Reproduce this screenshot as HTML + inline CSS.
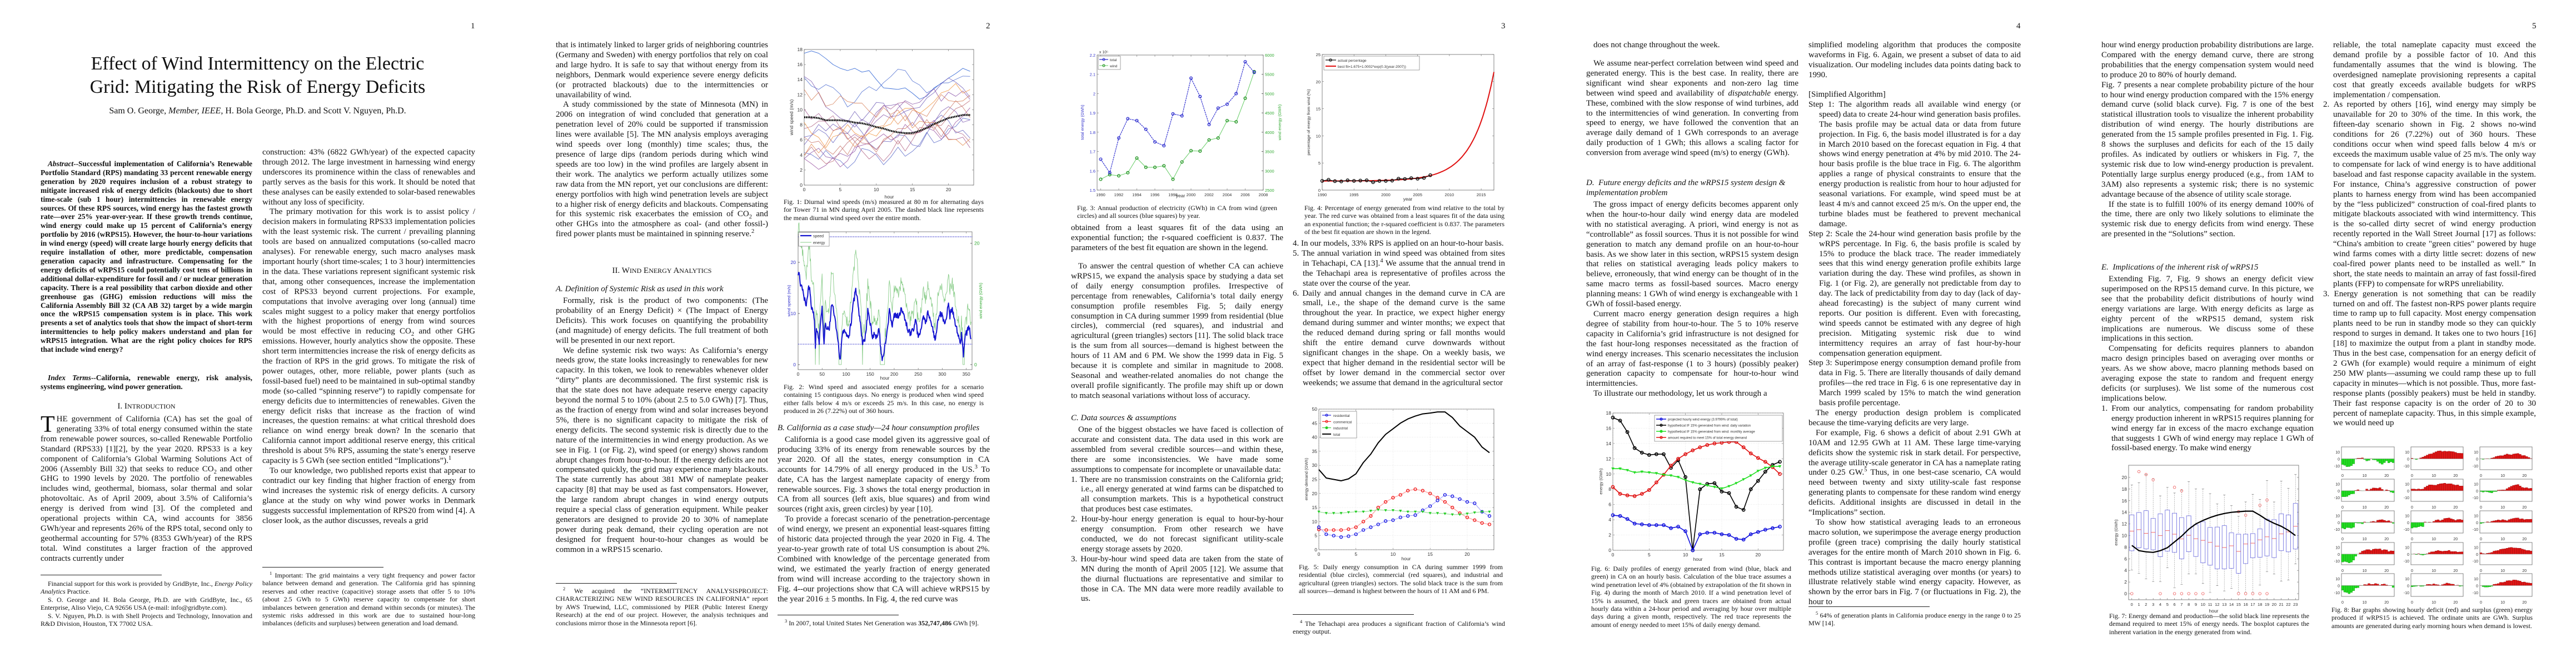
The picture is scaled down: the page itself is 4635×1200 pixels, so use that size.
<!DOCTYPE html>
<html><head><meta charset="utf-8">
<style>
html,body{margin:0;padding:0;background:#fff}
body{width:4635px;height:1200px;position:relative;overflow:hidden;font-family:"Liberation Serif",serif;color:#111}
.a{position:absolute}
.c{position:absolute;font-size:15px;line-height:17.9px;text-align:justify}
.c p{margin:0;text-indent:13px}
.c p.ni{text-indent:0}
.li{padding-left:18px;text-indent:-18px!important}
.st{padding-left:19px;text-indent:-19px!important}
.fn{position:absolute;font-size:12px;line-height:14.4px;text-align:justify}
.fn p{margin:0;text-indent:13px}
.cap{position:absolute;font-size:12px;line-height:14.4px;text-align:justify}
.hd{position:absolute;font-size:15px;line-height:18px;font-style:italic}
.sec{position:absolute;font-size:15px;line-height:18px;text-align:center}
.rule{position:absolute;height:1px;background:#222}
.pn{position:absolute;font-size:15px;top:39px}
.abs{position:absolute;font-size:13.4px;line-height:15.9px;font-weight:bold;text-align:justify}
.abs p{margin:0;text-indent:13px}
sup{font-size:70%;line-height:0}
sub{font-size:70%;line-height:0}
svg{position:absolute;left:0;top:0}
</style></head><body>
<svg id="ov" width="4635" height="1200" xmlns="http://www.w3.org/2000/svg"></svg>

<!-- page numbers -->
<div class="pn" style="left:847px">1</div>
<div class="pn" style="left:1774px">2</div>
<div class="pn" style="left:2701px">3</div>
<div class="pn" style="left:3628px">4</div>
<div class="pn" style="left:4556px">5</div>

<!-- PAGE 1 -->
<div class="a" style="left:0;width:927px;top:94px;text-align:center;font-size:34px;line-height:42px">Effect of Wind Intermittency on the Electric<br>Grid: Mitigating the Risk of Energy Deficits</div>
<div class="a" style="left:0;width:927px;top:191px;text-align:center;font-size:16px">Sam O. George, <i>Member, IEEE</i>, H. Bola George, Ph.D. and Scott V. Nguyen, Ph.D.</div>

<div class="abs" style="left:73px;top:287px;width:381px"><p><i>Abstract</i>--Successful implementation of California’s Renewable Portfolio Standard (RPS) mandating 33 percent renewable energy generation by 2020 requires inclusion of a robust strategy to mitigate increased risk of energy deficits (blackouts) due to short time-scale (sub 1 hour) intermittencies in renewable energy sources. Of these RPS sources, wind energy has the fastest growth rate—over 25% year-over-year. If these growth trends continue, wind energy could make up 15 percent of California’s energy portfolio by 2016 (wRPS15). However, the hour-to-hour variations in wind energy (speed) will create large hourly energy deficits that require installation of other, more predictable, compensation generation capacity and infrastructure. Compensating for the energy deficits of wRPS15 could potentially cost tens of billions in additional dollar-expenditure for fossil and / or nuclear generation capacity. There is a real possibility that carbon dioxide and other greenhouse gas (GHG) emission reductions will miss the California Assembly Bill 32 (CA AB 32) target by a wide margin once the wRPS15 compensation system is in place. This work presents a set of analytics tools that show the impact of short-term intermittencies to help policy makers understand and plan for wRPS15 integration. What are the right policy choices for RPS that include wind energy?</p></div>
<div class="abs" style="left:73px;top:672px;width:381px"><p><i>Index Terms</i>--California, renewable energy, risk analysis, systems engineering, wind power generation.</p></div>
<div class="sec" style="left:73px;top:722px;width:381px">I. I<span style="font-size:12px">NTRODUCTION</span></div>
<div class="c" style="left:73px;top:746px;width:381px"><p class="ni"><span style="float:left;font-size:42px;line-height:34px;margin:1px 3px 0 0">T</span>HE government of California (CA) has set the goal of generating 33% of total energy consumed within the state from renewable power sources, so-called Renewable Portfolio Standard (RPS33) [1][2], by the year 2020. RPS33 is a key component of California’s Global Warming Solutions Act of 2006 (Assembly Bill 32) that seeks to reduce CO<sub>2</sub> and other GHG to 1990 levels by 2020. The portfolio of renewables includes wind, geothermal, biomass, solar thermal and solar photovoltaic. As of April 2009, about 3.5% of California’s energy is derived from wind [3]. Of the completed and operational projects within CA, wind accounts for 3856 GWh/year and represents 26% of the RPS total, second only to geothermal accounting for 57% (8353 GWh/year) of the RPS total. Wind constitutes a larger fraction of the approved contracts currently under</p></div>
<div class="rule" style="left:73px;top:1034px;width:218px"></div>
<div class="fn" style="left:73px;top:1043px;width:381px"><p>Financial support for this work is provided by GridByte, Inc., <i>Energy Policy Analytics</i> Practice.</p><p>S. O. George and H. Bola George, Ph.D. are with GridByte, Inc., 65 Enterprise, Aliso Viejo, CA 92656 USA (e-mail: info@gridbyte.com).</p><p>S. V. Nguyen, Ph.D. is with Shell Projects and Technology, Innovation and R&amp;D Division, Houston, TX 77002 USA.</p></div>

<div class="c" style="left:472px;top:266px;width:383px"><p class="ni">construction: 43% (6822 GWh/year) of the expected capacity through 2012. The large investment in harnessing wind energy underscores its prominence within the class of renewables and partly serves as the basis for this work. It should be noted that these analyses can be easily extended to solar-based renewables without any loss of specificity.</p><p>The primary motivation for this work is to assist policy / decision makers in formulating RPS33 implementation policies with the least systemic risk. The current / prevailing planning tools are based on annualized computations (so-called macro analyses). For renewable energy, such macro analyses mask important hourly (short time-scales; 1 to 3 hour) intermittencies in the data. These variations represent significant systemic risk that, among other consequences, increase the implementation cost of RPS33 beyond current projections. For example, computations that involve averaging over long (annual) time scales might suggest to a policy maker that energy portfolios with the highest proportions of energy from wind sources would be most effective in reducing CO<sub>2</sub> and other GHG emissions. However, hourly analytics show the opposite. These short term intermittencies increase the risk of energy deficits as the fraction of RPS in the grid grows. To mitigate the risk of power outages, other, more reliable, power plants (such as fossil-based fuel) need to be maintained in sub-optimal standby mode (so-called “spinning reserve”) to rapidly compensate for energy deficits due to intermittencies of renewables. Given the energy deficit risks that increase as the fraction of wind increases, the question remains: at what critical threshold does reliance on wind energy break down? In the scenario that California cannot import additional reserve energy, this critical threshold is about 5% RPS, assuming the state’s energy reserve capacity is 5 GWh (see section entitled “Implications”).<sup>1</sup></p><p>To our knowledge, two published reports exist that appear to contradict our key finding that higher fraction of energy from wind increases the systemic risk of energy deficits. A cursory glance at the study on why wind power works in Denmark suggests successful implementation of RPS20 from wind [4]. A closer look, as the author discusses, reveals a grid</p></div>
<div class="rule" style="left:472px;top:1020px;width:218px"></div>
<div class="fn" style="left:472px;top:1028px;width:383px"><p><sup>1</sup> Important: The grid maintains a very tight frequency and power factor balance between demand and generation. The California grid has spinning reserves and other reactive (capacitive) storage assets that offer 5 to 10% (about 2.5 GWh to 5 GWh) reserve capacity to compensate for short imbalances between generation and demand within seconds (or minutes). The systemic risks addressed in this work are due to sustained hour-long imbalances (deficits and surpluses) between generation and load demand.</p></div>

<!-- PAGE 2 -->
<div class="c" style="left:1000px;top:73px;width:382px"><p class="ni">that is intimately linked to larger grids of neighboring countries (Germany and Sweden) with energy portfolios that rely on coal and large hydro. It is safe to say that without energy from its neighbors, Denmark would experience severe energy deficits (or protracted blackouts) due to the intermittencies or unavailability of wind.</p><p>A study commissioned by the state of Minnesota (MN) in 2006 on integration of wind concluded that generation at a penetration level of 20% could be supported if transmission lines were available [5]. The MN analysis employs averaging wind speeds over long (monthly) time scales; thus, the presence of large dips (random periods during which wind speeds are too low) in the wind profiles are largely absent in their work. The analytics we perform actually utilizes some raw data from the MN report, yet our conclusions are different: energy portfolios with high wind penetration levels are subject to a higher risk of energy deficits and blackouts. Compensating for this systemic risk exacerbates the emission of CO<sub>2</sub> and other GHGs into the atmosphere as coal- (and other fossil-) fired power plants must be maintained in spinning reserve.<sup>2</sup></p></div>
<div class="sec" style="left:1000px;top:478px;width:382px">II. W<span style="font-size:12px">IND</span> E<span style="font-size:12px">NERGY</span> A<span style="font-size:12px">NALYTICS</span></div>
<div class="hd" style="left:1000px;top:511px;width:382px">A. Definition of Systemic Risk as used in this work</div>
<div class="c" style="left:1000px;top:533px;width:382px"><p>Formally, risk is the product of two components: (The probability of an Energy Deficit) × (The Impact of Energy Deficits). This work focuses on quantifying the probability (and magnitude) of energy deficits. The full treatment of both will be presented in our next report.</p><p>We define systemic risk two ways: As California’s energy needs grow, the state looks increasingly to renewables for new capacity. In this token, we look to renewables whenever older “dirty” plants are decommissioned. The first systemic risk is that the state does not have adequate reserve energy capacity beyond the normal 5 to 10% (about 2.5 to 5.0 GWh) [7]. Thus, as the fraction of energy from wind and solar increases beyond 5%, there is no significant capacity to mitigate the risk of energy deficits. The second systemic risk is directly due to the nature of the intermittencies in wind energy production. As we see in Fig. 1 (or Fig. 2), wind speed (or energy) shows random abrupt changes from hour-to-hour. If the energy deficits are not compensated quickly, the grid may experience many blackouts. The state currently has about 381 MW of nameplate peaker capacity [8] that may be used as fast compensators. However, the large random abrupt changes in wind energy outputs require a special class of generation equipment. While peaker generators are designed to provide 20 to 30% of nameplate power during peak demand, their cycling operation are not designed for frequent hour-to-hour changes as would be common in a wRPS15 scenario.</p></div>
<div class="rule" style="left:1000px;top:1049px;width:218px"></div>
<div class="fn" style="left:1000px;top:1056px;width:382px"><p><sup>2</sup> We acquired the “INTERMITTENCY ANALYSISPROJECT: CHARACTERIZING NEW WIND RESOURCES IN CALIFORNIA” report by AWS Truewind, LLC, commissioned by PIER (Public Interest Energy Research) at the end of our project. However, the analysis techniques and conclusions mirror those in the Minnesota report [6].</p></div>

<div class="cap" style="left:1410px;top:356px;width:360px">Fig. 1: Diurnal wind speeds (m/s) measured at 80 m for alternating days for Tower 71 in MN during April 2005. The dashed black line represents the mean diurnal wind speed over the entire month.</div>
<div class="cap" style="left:1410px;top:689px;width:360px">Fig. 2: Wind speed and associated energy profiles for a scenario containing 15 contiguous days. No energy is produced when wind speed either falls below 4 m/s or exceeds 25 m/s. In this case, no energy is produced in 26 (7.22%) out of 360 hours.</div>
<div class="hd" style="left:1399px;top:761px;width:383px">B. California as a case study—24 hour consumption profiles</div>
<div class="c" style="left:1399px;top:783px;width:382px"><p>California is a good case model given its aggressive goal of producing 33% of its energy from renewable sources by the year 2020. Of all the states, energy consumption in CA accounts for 14.79% of all energy produced in the US.<sup>3</sup> To date, CA has the largest nameplate capacity of energy from renewable sources. Fig. 3 shows the total energy production in CA from all sources (left axis, blue squares) and from wind sources (right axis, green circles) by year [10].</p><p>To provide a forecast scenario of the penetration-percentage of wind energy, we present an exponential least-squares fitting of historic data projected through the year 2020 in Fig. 4. The year-to-year growth rate of total US consumption is about 2%. Combined with knowledge of the percentage generated from wind, we estimated the yearly fraction of energy generated from wind will increase according to the trajectory shown in Fig. 4--our projections show that CA will achieve wRPS15 by the year 2016 ± 5 months. In Fig. 4, the red curve was</p></div>
<div class="rule" style="left:1399px;top:1106px;width:218px"></div>
<div class="fn" style="left:1399px;top:1114px;width:382px"><p><sup>3</sup> In 2007, total United States Net Generation was <b>352,747,486</b> GWh [9].</p></div>

<!-- PAGE 3 -->
<div class="cap" style="left:1938px;top:367px;width:360px">Fig. 3: Annual production of electricity (GWh) in CA from wind (green circles) and all sources (blue squares) by year.</div>
<div class="c" style="left:1927px;top:402px;width:382px"><p class="ni">obtained from a least squares fit of the data using an exponential function; the r-squared coefficient is 0.837. The parameters of the best fit equation are shown in the legend.</p></div>
<div class="c" style="left:1927px;top:471px;width:382px"><p>To answer the central question of whether CA can achieve wRPS15, we expand the analysis space by studying a data set of daily energy consumption profiles. Irrespective of percentage from renewables, California’s total daily energy consumption profile resembles Fig. 5; daily energy consumption in CA during summer 1999 from residential (blue circles), commercial (red squares), and industrial and agricultural (green triangles) sectors [11]. The solid black trace is the sum from all sources—demand is highest between the hours of 11 AM and 6 PM. We show the 1999 data in Fig. 5 because it is complete and similar in magnitude to 2008. Seasonal and weather-related anomalies do not change the overall profile significantly. The profile may shift up or down to match seasonal variations without loss of accuracy.</p></div>
<div class="hd" style="left:1927px;top:743px;width:382px">C. Data sources &amp; assumptions</div>
<div class="c" style="left:1927px;top:765px;width:382px"><p>One of the biggest obstacles we have faced is collection of accurate and consistent data. The data used in this work are assembled from several credible sources—and within these, there are some inconsistencies. We have made some assumptions to compensate for incomplete or unavailable data:</p><p class="li">1.&nbsp;There are no transmission constraints on the California grid; i.e., all energy generated at wind farms can be dispatched to all consumption markets. This is a hypothetical construct that produces best case estimates.</p><p class="li">2.&nbsp;Hour-by-hour energy generation is equal to hour-by-hour energy consumption. From other research we have conducted, we do not forecast significant utility-scale energy storage assets by 2020.</p><p class="li">3.&nbsp;Hour-by-hour wind speed data are taken from the state of MN during the month of April 2005 [12]. We assume that the diurnal fluctuations are representative and similar to those in CA. The MN data were more readily available to us.</p></div>

<div class="cap" style="left:2347px;top:367px;width:360px">Fig. 4: Percentage of energy generated from wind relative to the total by year. The red curve was obtained from a least squares fit of the data using an exponential function; the r-squared coefficient is 0.837. The parameters of the best fit equation are shown in the legend.</div>
<div class="c" style="left:2326px;top:430px;width:382px"><p class="li">4.&nbsp;In our models, 33% RPS is applied on an hour-to-hour basis.</p><p class="li">5.&nbsp;The annual variation in wind speed was obtained from sites in Tehachapi, CA [13].<sup>4</sup> We assume that the annual trend in the Tehachapi area is representative of profiles across the state over the course of the year.</p><p class="li">6.&nbsp;Daily and annual changes in the demand curve in CA are small, i.e., the shape of the demand curve is the same throughout the year. In practice, we expect higher energy demand during summer and winter months; we expect that the reduced demand during spring or fall months would shift the entire demand curve downwards without significant changes in the shape. On a weekly basis, we expect that higher demand in the residential sector will be offset by lower demand in the commercial sector over weekends; we assume that demand in the agricultural sector</p></div>
<div class="cap" style="left:2337px;top:1013px;width:367px">Fig. 5: Daily energy consumption in CA during summer 1999 from residential (blue circles), commercial (red squares), and industrial and agricultural (green triangles) sectors. The solid black trace is the sum from all sources—demand is highest between the hours of 11 AM and 6 PM.</div>
<div class="rule" style="left:2326px;top:1105px;width:218px"></div>
<div class="fn" style="left:2326px;top:1115px;width:382px"><p><sup>4</sup> The Tehachapi area produces a significant fraction of California’s wind energy output.</p></div>

<!-- PAGE 4 -->
<div class="c" style="left:2854px;top:73px;width:382px"><p>does not change throughout the week.</p></div>
<div class="c" style="left:2854px;top:106px;width:382px"><p>We assume near-perfect correlation between wind speed and generated energy. This is the best case. In reality, there are significant wind shear exponents and non-zero lag time between wind speed and availability of <i>dispatchable</i> energy. These, combined with the slow response of wind turbines, add to the intermittencies of wind generation. In converting from speed to energy, we have followed the convention that an average daily demand of 1 GWh corresponds to an average daily production of 1 GWh; this allows a scaling factor for conversion from average wind speed (m/s) to energy (GWh).</p></div>
<div class="hd" style="left:2854px;top:321px;width:382px;line-height:17.9px">D.&nbsp; Future energy deficits and the wRPS15 system design &amp; implementation problem</div>
<div class="c" style="left:2854px;top:360px;width:382px"><p>The gross impact of energy deficits becomes apparent only when the hour-to-hour daily wind energy data are modeled with no statistical averaging. A priori, wind energy is not as “controllable” as fossil sources. Thus it is not possible for wind generation to match any demand profile on an hour-to-hour basis. As we show later in this section, wRPS15 system design that relies on statistical averaging leads policy makers to believe, erroneously, that wind energy can be thought of in the same macro terms as fossil-based sources. Macro energy planning means: 1 GWh of wind energy is exchangeable with 1 GWh of fossil-based energy.</p><p>Current macro energy generation design requires a high degree of stability from hour-to-hour. The 5 to 10% reserve capacity in California’s grid infrastructure is not designed for the fast hour-long responses necessitated as the fraction of wind energy increases. This scenario necessitates the inclusion of an array of fast-response (1 to 3 hours) (possibly peaker) generation capacity to compensate for hour-to-hour wind intermittencies.</p><p>To illustrate our methodology, let us work through a</p></div>
<div class="cap" style="left:2863px;top:1016px;width:360px">Fig. 6: Daily profiles of energy generated from wind (blue, black and green) in CA on an hourly basis. Calculation of the blue trace assumes a wind penetration level of 4% (obtained by extrapolation of the fit shown in Fig. 4) during the month of March 2010. If a wind penetration level of 15% is assumed, the black and green traces are obtained from actual hourly data within a 24-hour period and averaging by hour over multiple days during a given month, respectively. The red trace represents the amount of energy needed to meet 15% of daily energy demand.</div>

<div class="c" style="left:3254px;top:73px;width:382px"><p class="ni">simplified modeling algorithm that produces the composite waveforms in Fig. 6. Again, we present a subset of data to aid visualization. Our modeling includes data points dating back to 1990.</p></div>
<div class="c" style="left:3254px;top:162px;width:382px"><p class="ni">[Simplified Algorithm]</p><p class="st">Step 1: The algorithm reads all available wind energy (or speed) data to create 24-hour wind generation basis profiles. The basis profile may be actual data or data from future projection. In Fig. 6, the basis model illustrated is for a day in March 2010 based on the forecast equation in Fig. 4 that shows wind energy penetration at 4% by mid 2010. The 24-hour basis profile is the blue trace in Fig. 6. The algorithm applies a range of physical constraints to ensure that the energy production is realistic from hour to hour adjusted for seasonal variations. For example, wind speed must be at least 4 m/s and cannot exceed 25 m/s. On the upper end, the turbine blades must be feathered to prevent mechanical damage.</p><p class="st">Step 2: Scale the 24-hour wind generation basis profile by the wRPS percentage. In Fig. 6, the basis profile is scaled by 15% to produce the black trace. The reader immediately sees that this wind energy generation profile exhibits large variation during the day. These wind profiles, as shown in Fig. 1 (or Fig. 2), are generally not predictable from day to day. The lack of predictability from day to day (lack of day-ahead forecasting) is the subject of many current wind reports. Our position is different. Even with forecasting, wind speeds cannot be estimated with any degree of high precision. Mitigating systemic risk due to wind intermittency requires an array of fast hour-by-hour compensation generation equipment.</p><p class="st">Step 3: Superimpose energy consumption demand profile from data in Fig. 5. There are literally thousands of daily demand profiles—the red trace in Fig. 6 is one representative day in March 1999 scaled by 15% to match the wind generation basis profile percentage.</p><p>The energy production design problem is complicated because the time-varying deficits are very large.</p><p>For example, Fig. 6 shows a deficit of about 2.91 GWh at 10AM and 12.95 GWh at 11 AM. These large time-varying deficits show the systemic risk in stark detail. For perspective, the average utility-scale generator in CA has a nameplate rating under 0.25 GW.<sup>5</sup> Thus, in one best-case scenario, CA would need between twenty and sixty utility-scale fast response generating plants to compensate for these random wind energy deficits. Additional insights are discussed in detail in the “Implications” section.</p><p>To show how statistical averaging leads to an erroneous macro solution, we superimpose the average energy production profile (green trace) comprising the daily hourly statistical averages for the entire month of March 2010 shown in Fig. 6. This contrast is important because the macro energy planning methods utilize statistical averaging over months (or years) to illustrate relatively stable wind energy capacity. However, as shown by the error bars in Fig. 7 (or fluctuations in Fig. 2), the hour to</p></div>
<div class="rule" style="left:3254px;top:1091px;width:218px"></div>
<div class="fn" style="left:3254px;top:1100px;width:382px"><p><sup>5</sup> 64% of generation plants in California produce energy in the range 0 to 25 MW [14].</p></div>

<!-- PAGE 5 -->
<div class="c" style="left:3781px;top:73px;width:382px"><p class="ni">hour wind energy production probability distributions are large. Compared with the energy demand curve, there are strong probabilities that the energy compensation system would need to produce 20 to 80% of hourly demand.</p><p class="ni">Fig. 7 presents a near complete probability picture of the hour to hour wind energy production compared with the 15% energy demand curve (solid black curve). Fig. 7 is one of the best statistical illustration tools to visualize the inherent probability distribution of wind energy. The hourly distributions are generated from the 15 sample profiles presented in Fig. 1. Fig. 8 shows the surpluses and deficits for each of the 15 daily profiles. As indicated by outliers or whiskers in Fig. 7, the systemic risk due to low wind-energy production is prevalent. Potentially large surplus energy produced (e.g., from 1AM to 3AM) also represents a systemic risk; there is no systemic advantage because of the absence of utility scale storage.</p><p>If the state is to fulfill 100% of its energy demand 100% of the time, there are only two likely solutions to eliminate the systemic risk due to energy deficits from wind energy. These are presented in the “Solutions” section.</p></div>
<div class="hd" style="left:3781px;top:472px;width:382px">E.&nbsp; Implications of the inherent risk of wRPS15</div>
<div class="c" style="left:3781px;top:494px;width:382px"><p>Extending Fig. 7, Fig. 9 shows an energy deficit view superimposed on the RPS15 demand curve. In this picture, we see that the probability deficit distributions of hourly wind energy variations are large. With energy deficits as large as eighty percent of the wRPS15 demand, system risk implications are numerous. We discuss some of these implications in this section.</p><p>Compensating for deficits requires planners to abandon macro design principles based on averaging over months or years. As we show above, macro planning methods based on averaging expose the state to random and frequent energy deficits (or surpluses). We list some of the numerous cost implications below.</p><p class="li">1.&nbsp;From our analytics, compensating for random probability energy production inherent in wRPS15 requires planning for wind energy far in excess of the macro exchange equation that suggests 1 GWh of wind energy may replace 1 GWh of fossil-based energy. To make wind energy</p></div>
<div class="cap" style="left:3795px;top:1101px;width:360px">Fig. 7: Energy demand and production—the solid black line represents the demand required to meet 15% of energy needs. The boxplot captures the inherent variation in the energy generated from wind.</div>

<div class="c" style="left:4180px;top:73px;width:383px"><p class="ni" style="padding-left:18px">reliable, the total nameplate capacity must exceed the demand profile by a possible factor of 10. And this fundamentally assumes that the wind is blowing. The overdesigned nameplate provisioning represents a capital cost that greatly exceeds available budgets for wRPS implementation / compensation.</p><p class="li">2.&nbsp;As reported by others [16], wind energy may simply be unavailable for 20 to 30% of the time. In this work, the fifteen-day scenario shown in Fig. 2 shows no-wind conditions for 26 (7.22%) out of 360 hours. These conditions occur when wind speed falls below 4 m/s or exceeds the maximum usable value of 25 m/s. The only way to compensate for lack of wind energy is to have additional baseload and fast response capacity available in the system. For instance, China’s aggressive construction of power plants to harness energy from wind has been accompanied by the “less publicized” construction of coal-fired plants to mitigate blackouts associated with wind intermittency. This is the so-called dirty secret of wind energy production recently reported in the Wall Street Journal [17] as follows: “China's ambition to create "green cities" powered by huge wind farms comes with a dirty little secret: dozens of new coal-fired power plants need to be installed as well.” In short, the state needs to maintain an array of fast fossil-fired plants (FFP) to compensate for wRPS unreliability.</p><p class="li">3.&nbsp;Energy generation is not something that can be readily turned on and off. The fastest non-RPS power plants require time to ramp up to full capacity. Most energy compensation plants need to be run in standby mode so they can quickly respond to surges in demand. It takes one to two hours [16][18] to maximize the output from a plant in standby mode. Thus in the best case, compensation for an energy deficit of 2 GWh (for example) would require a minimum of eight 250 MW plants—assuming we could ramp these up to full capacity in minutes—which is not possible. Thus, more fast-response plants (possibly peakers) must be held in standby. Their fast response capacity is on the order of 20 to 30 percent of nameplate capacity. Thus, in this simple example, we would need up</p></div>
<div class="cap" style="left:4195px;top:1090px;width:362px">Fig. 8: Bar graphs showing hourly deficit (red) and surplus (green) energy produced if wRPS15 is achieved. The ordinate units are GWh. Surplus amounts are generated during early morning hours when demand is lowest.</div>

<script>
const NS='http://www.w3.org/2000/svg';const S=document.getElementById('ov');
function el(t,a,tx){const e=document.createElementNS(NS,t);for(const k in a)e.setAttribute(k,a[k]);if(tx!=null)e.textContent=tx;S.appendChild(e);return e;}
function T(x,y,s,o){o=o||{};const a={x:x,y:y,'font-size':o.fs||8.5,'font-family':'Liberation Sans, sans-serif','text-anchor':o.a||'middle',fill:o.c||'#333'};if(o.r)a.transform='rotate(-90 '+x+' '+y+')';return el('text',a,s);}
function M(b,xr,yr){return (x,y)=>[b.x0+(x-xr[0])/(xr[1]-xr[0])*(b.x1-b.x0),b.y1-(y-yr[0])/(yr[1]-yr[0])*(b.y1-b.y0)];}
function frame(b){el('rect',{x:b.x0,y:b.y0,width:b.x1-b.x0,height:b.y1-b.y0,fill:'#fff',stroke:'#666','stroke-width':0.8});}
function xt(b,m,vals,o){o=o||{};vals.forEach(v=>{const x=m(v,0)[0];el('line',{x1:x,x2:x,y1:b.y1,y2:b.y1-3,stroke:'#666','stroke-width':0.6});el('line',{x1:x,x2:x,y1:b.y0,y2:b.y0+3,stroke:'#666','stroke-width':0.6});if(o.grid)el('line',{x1:x,x2:x,y1:b.y0,y2:b.y1,stroke:'#ccc','stroke-width':0.5,'stroke-dasharray':'1,2'});T(x,b.y1+11,o.lab?o.lab(v):String(v),{fs:o.fs});});}
function yt(b,m,vals,o){o=o||{};vals.forEach(v=>{const y=m(0,v)[1];el('line',{x1:b.x0,x2:b.x0+3,y1:y,y2:y,stroke:'#666','stroke-width':0.6});if(!o.noright)el('line',{x1:b.x1,x2:b.x1-3,y1:y,y2:y,stroke:'#666','stroke-width':0.6});if(o.grid)el('line',{x1:b.x0,x2:b.x1,y1:y,y2:y,stroke:'#ccc','stroke-width':0.5,'stroke-dasharray':'1,2'});T(b.x0-3,y+3,o.lab?o.lab(v):String(v),{a:'end',c:o.c,fs:o.fs});});}
function pl(m,xs,ys,a){const p=xs.map((x,i)=>m(x,ys[i]).map(v=>v.toFixed(1)).join(',')).join(' ');return el('polyline',Object.assign({points:p,fill:'none','stroke-linejoin':'round'},a));}
function circ(m,xs,ys,r,a){xs.forEach((x,i)=>{const p=m(x,ys[i]);el('circle',Object.assign({cx:p[0],cy:p[1],r:r,fill:'none'},a));});}
function rng(s){return function(){s|=0;s=s+0x6D2B79F5|0;let t=Math.imul(s^s>>>15,1|s);t=t+Math.imul(t^t>>>7,61|t)^t;return((t^t>>>14)>>>0)/4294967296;}}
const R=rng(12345);
const H=[...Array(24).keys()];

/* FIG 1 */
(function(){const b={x0:1447,y0:89,x1:1752,y1:333};frame(b);const m=M(b,[0,23.5],[0,18]);
xt(b,m,[0,5,10,15,20]);yt(b,m,[0,2,4,6,8,10,12,14,16,18]);
T(1600,357,'hour',{fs:8.5});T(1427,211,'wind speed (m/s)',{r:1,fs:8.5});
function col(t){const c1=[61,111,216],c2=[150,80,160],c3=[240,144,58];let a,b,u;if(t<0.5){a=c1;b=c2;u=t*2}else{a=c2;b=c3;u=(t-0.5)*2}return 'rgb('+a.map((v,i)=>Math.round(v+(b[i]-v)*u)).join(',')+')';}
pl(m,H,[17.5,17.8,17.5,16.8,16,15.5,15.2,15.5,15,15.2,14,12.9,12.8,12.7,12.9,12.2,11.4,11.8,12.9,13.5,14.2,14.8,15.5,15.1],{stroke:col(0),'stroke-width':0.9});
for(let k=1;k<15;k++){let v=3.5+R()*11;const ys=[];for(let h=0;h<24;h++){ys.push(v);v+= (R()-0.5)*3.2+(8-v)*0.08;v=Math.max(1,Math.min(16.5,v));}pl(m,H,ys,{stroke:col(k/14),'stroke-width':0.9,'stroke-opacity':0.85});}
pl(m,H,[9,9,8.9,8.6,8.6,8.6,8.5,8.3,8.2,8.0,7.7,7.5,7.2,7,6.9,6.9,7.2,7.6,8.1,8.5,8.9,9.1,9.3,9.3],{stroke:'#000','stroke-width':3.2,'stroke-dasharray':'2,1'});
})();

/* FIG 2 */
(function(){const b={x0:1436,y0:417,x1:1749,y1:665};frame(b);const m=M(b,[0,362],[-0.98,25.98]);const m2=M(b,[0,362],[-0.83,21.9]);
xt(b,m,[0,50,100,150,200,250,300,350]);
[0,10,20].forEach(v=>{const y=m(0,v)[1];T(b.x0-4,y+3,String(v),{a:'end',c:'#33c'});el('line',{x1:b.x0,x2:b.x0+3,y1:y,y2:y,stroke:'#666'});});
[0,20].forEach(v=>{const y=m2(0,v)[1];T(b.x1+4,y+3,String(v),{a:'start',c:'#3a3'});el('line',{x1:b.x1,x2:b.x1-3,y1:y,y2:y,stroke:'#666'});});
T(1592,683,'hour');T(1422,541,'wind speed (m/s)',{r:1,c:'#33c',fs:7.5});T(1767,541,'wind energy (GWh)',{r:1,c:'#3a3',fs:7.5});
const cp=[[0,17.7],[3,17.5],[5,15.5],[10,15],[13,12.8],[17,11.5],[22,15.5],[25,14],[28,11],[32,10.5],[34,9],[36,3.2],[38,7.3],[42,5],[44,4.5],[47,8.5],[50,11.3],[52,7],[54,3.5],[57,8.7],[60,7],[65,7],[70,12],[73,11],[78,8],[82,5.5],[86,2],[88,1.3],[91,5.5],[95,6.5],[100,6],[105,5],[110,8],[115,12],[120,14.6],[125,12],[128,9],[131,7],[134,4.2],[138,4.5],[142,7],[145,10.5],[150,8],[155,5.5],[160,6],[165,5],[168,7.6],[172,3],[175,1.1],[180,3],[185,6],[190,10.8],[193,9],[196,7.3],[200,9.5],[210,9.5],[215,10.8],[220,9.5],[225,8],[230,6.5],[235,6],[240,7],[245,9],[250,5],[255,6.5],[260,9.8],[265,8],[270,10.3],[275,9],[280,7],[285,5],[290,8],[295,10],[300,9.5],[305,8],[310,10],[313,12.3],[316,9.5],[320,11],[325,9],[330,7],[335,5.5],[337,4],[340,5.8],[344,1.6],[347,5.5],[352,6.5],[356,7.4],[360,4.7]];
const xs=[],sp=[],en=[];let j=0;for(let h=0;h<=360;h++){while(j<cp.length-2&&cp[j+1][0]<h)j++;const a=cp[j],c=cp[j+1];const u=Math.min(1,Math.max(0,(h-a[0])/(c[0]-a[0])));let v=a[1]+(c[1]-a[1])*u+(R()-0.5)*1.2;v=Math.max(0.8,v);xs.push(h);sp.push(v);en.push(v<4?0:v*1.27+(R()-0.5)*1.5);}
pl(m2,xs,en,{stroke:'#8c8','stroke-width':0.9});
pl(m,xs,sp,{stroke:'#1515d0','stroke-width':2});
[4,25].forEach(v=>{const y=m(0,v)[1];el('line',{x1:b.x0,x2:b.x1,y1:y,y2:y,stroke:'#33c','stroke-width':1.2,'stroke-dasharray':'1.5,1.5'});});
el('rect',{x:1437,y:418,width:55,height:25,fill:'#fff',stroke:'#666','stroke-width':0.6});
el('line',{x1:1440,x2:1460,y1:424,y2:424,stroke:'#1515d0','stroke-width':2.2});T(1463,427,'speed',{a:'start',fs:7});
el('line',{x1:1440,x2:1460,y1:436,y2:436,stroke:'#8c8','stroke-width':1});T(1463,439,'energy',{a:'start',fs:7});
})();

/* FIG 3 */
(function(){const b={x0:1974,y0:99,x1:2273,y1:342};frame(b);const m=M(b,[1989.6,2008],[1.5,2.2]);const m2=M(b,[1989.6,2008],[2500,6000]);
xt(b,m,[1990,1992,1994,1996,1998,2000,2002,2004,2006,2008],{fs:7.5});
yt(b,m,[1.5,1.6,1.7,1.8,1.9,2,2.1,2.2],{c:'#33c',noright:1,fs:7.5});
[2500,3000,3500,4000,4500,5000,5500,6000].forEach(v=>{const y=m2(0,v)[1];T(b.x1+3,y+3,String(v),{a:'start',c:'#3a3',fs:7.5});el('line',{x1:b.x1,x2:b.x1-3,y1:y,y2:y,stroke:'#666'});});
T(1986,96,'x 10\u2075',{fs:7});T(2124,355,'year');T(1950,220,'total energy (GWh)',{r:1,c:'#33c',fs:7.5});T(2305,220,'wind energy (GWh)',{r:1,c:'#3a3',fs:7.5});
const yrs=[];for(let y=1990;y<=2007;y++)yrs.push(y);
const tb=[1.66,1.59,1.77,1.87,1.86,1.815,1.75,1.73,1.895,1.885,2.08,1.985,1.84,1.925,1.945,2.0,2.165,2.11];
const wd=[2780,2900,2870,2950,3330,3090,3090,3130,2780,3230,3520,3510,3800,3850,4300,4270,4880,5570];
pl(m2,yrs,wd,{stroke:'#6c6','stroke-width':1});circ(m2,yrs,wd,2.4,{stroke:'#181','stroke-width':1.2});
pl(m,yrs,tb,{stroke:'#22c','stroke-width':1.1,'stroke-dasharray':'3,1'});circ(m,yrs,tb,2.4,{stroke:'#22c','stroke-width':1.2});
el('rect',{x:1976,y:101,width:40,height:24,fill:'#fff',stroke:'#666','stroke-width':0.6});
el('line',{x1:1978,x2:1994,y1:107,y2:107,stroke:'#22c','stroke-width':1.2});el('circle',{cx:1986,cy:107,r:2,fill:'none',stroke:'#22c'});T(1997,110,'total',{a:'start',fs:6.5});
el('line',{x1:1978,x2:1994,y1:118,y2:118,stroke:'#6c6','stroke-width':1});el('circle',{cx:1986,cy:118,r:2,fill:'none',stroke:'#181'});T(1997,121,'wind',{a:'start',fs:6.5});
})();

/* FIG 4 */
(function(){const b={x0:2379,y0:98,x1:2688,y1:342};frame(b);const m=M(b,[1990,2017],[0,25]);
xt(b,m,[1990,1995,2000,2005,2010,2015],{fs:7.5});yt(b,m,[0,5,10,15,20,25],{fs:7.5});
T(2533,361,'year');T(2357,220,'percentage of energy from wind (%)',{r:1,fs:7.5});
const xs=[],ys=[];for(let y=1990;y<=2017;y+=0.25){xs.push(y);ys.push(1.675+1.0002*Math.exp(0.3*(y-2007)));}
pl(m,xs,ys,{stroke:'#e01010','stroke-width':2});
const yrs=[],pc=[1.7,1.9,1.65,1.6,1.8,1.7,1.75,1.8,1.45,1.7,1.7,1.75,2.1,2.05,2.2,2.1,2.25,2.75];for(let y=1990;y<=2007;y++)yrs.push(y);
pl(m,yrs,pc,{stroke:'#111','stroke-width':1.2});circ(m,yrs,pc,2.6,{stroke:'#111','stroke-width':1.4});
el('rect',{x:2382,y:101,width:172,height:25,fill:'#fff',stroke:'#666','stroke-width':0.6});
el('line',{x1:2385,x2:2404,y1:108,y2:108,stroke:'#111','stroke-width':1.2});el('circle',{cx:2394,cy:108,r:2.2,fill:'none',stroke:'#111','stroke-width':1.2});T(2407,111,'actual percentage',{a:'start',fs:6.5});
el('line',{x1:2385,x2:2404,y1:119,y2:119,stroke:'#e01010','stroke-width':2});T(2407,122,'best fit=1.675+1.0002*exp(0.3(year-2007))',{a:'start',fs:6.5});
})();

/* FIG 5 */
(function(){const b={x0:2373,y0:736,x1:2688,y1:989};frame(b);const m=M(b,[0,23.6],[0,50]);
xt(b,m,[0,5,10,15,20],{grid:1});yt(b,m,[0,5,10,15,20,25,30,35,40,45,50],{grid:1});
T(2530,1008,'hour');T(2353,862,'energy demand (GWh)',{r:1,fs:7.5});
const tot=[28.5,25.5,25,24.5,25.2,27,31,34,38,41,43,45,46.5,47.5,48.3,48.6,49,49,47,44,42,40,36.5,34.5];
const red=[7.2,7,7,7,7.3,8,10,12,15,17,18.5,19.5,21,21.5,21,20,18.5,17,15,13,11.5,10.5,9.5,9];
const blu=[8,5.5,5,4.5,4.8,5.5,7,8,9,10.2,10.5,11.5,12,12.3,14,15.5,17.5,19.5,19,18,17,16.5,13.5,12];
const grn=[13.5,13,13,13,13.3,13.5,13.5,13.8,14.2,14,14,13.8,13.5,13.5,13.5,13,13,12.8,12.5,12.5,12.8,13.2,13.5,13.5];
pl(m,H,tot,{stroke:'#000','stroke-width':2});
pl(m,H,red,{stroke:'#f88','stroke-width':1});circ(m,H,red,2.5,{stroke:'#e00','stroke-width':1.2});
pl(m,H,blu,{stroke:'#99f','stroke-width':1});circ(m,H,blu,2.5,{stroke:'#00d','stroke-width':1.2});
pl(m,H,grn,{stroke:'#8d8','stroke-width':1});H.forEach(h=>{const p=m(h,grn[h]);el('polygon',{points:(p[0]-2.6)+','+(p[1]-2)+' '+(p[0]+2.6)+','+(p[1]-2)+' '+p[0]+','+(p[1]+2.6),fill:'#2c2'});});
el('rect',{x:2376,y:740,width:65,height:48,fill:'#fff',stroke:'#666','stroke-width':0.6});
[['residential','#00d'],['commerical','#e00'],['industrial','#2c2'],['total','#000']].forEach((e,i)=>{const y=747+i*11.3;el('line',{x1:2379,x2:2395,y1:y,y2:y,stroke:e[1],'stroke-width':i==3?2:1});if(i<3)el('circle',{cx:2387,cy:y,r:2,fill:i==2?e[1]:'none',stroke:e[1]});T(2399,y+3,e[0],{a:'start',fs:6.5});});
})();

/* FIG 6 */
const RED6=[8.3,7.4,7.2,7.1,7.4,7.9,8.9,9.9,11.1,12,12.6,13.1,13.5,13.8,14,14.1,14.2,14.2,13.5,12.7,12.1,11.6,10.9,10];
(function(){const b={x0:2902,y0:743,x1:3209,y1:990};frame(b);const m=M(b,[0,23.5],[0,18]);
xt(b,m,[0,5,10,15,20],{grid:1});yt(b,m,[0,2,4,6,8,10,12,14,16,18],{grid:1});
T(3055,1009,'hour');T(2883,866,'energy (GWh)',{r:1,fs:7.5});
const blk=[17.4,17,15.5,13.4,12.8,12.5,12.6,12.6,10.8,11.8,9.6,0,8,8.7,8.8,7.7,7.5,5.7,5.3,8,9.1,10.3,11.2,11.6];
const grn=[10.7,10.7,10.5,10.2,10.3,10.2,10.1,9.9,9.8,9.6,9.2,8.9,8.7,8.5,8.3,8.1,8.4,8.8,9.3,9.8,10.4,10.8,11,11];
const blu=[4.6,4.5,4.1,3.5,3.4,3.3,3.3,3.3,2.9,3.1,2.5,0,2.1,2.3,2.3,2.1,2,1.5,1.4,2.1,2.4,2.7,2.9,3.1];
[[blk,'#000'],[RED6,'#e01010'],[grn,'#22dd22'],[blu,'#1010dd']].forEach(s=>{pl(m,H,s[0],{stroke:s[1],'stroke-width':1.6});if(s[1]=='#22dd22')H.forEach(h=>{const p=m(h,s[0][h]);el('polygon',{points:(p[0]-2.8)+','+(p[1]-2)+' '+(p[0]+2.8)+','+(p[1]-2)+' '+p[0]+','+(p[1]+2.8),fill:s[1]});});else circ(m,H,s[0],2.6,{stroke:s[1],'stroke-width':1.5});});
el('rect',{x:2977,y:747,width:230,height:47,fill:'#fff',stroke:'#666','stroke-width':0.6});
[['projected hourly wind energy (3.9799% of total)','#1010dd'],['hypothetical IF 15% generated from wind: daily variation','#000'],['hypothetical IF 15% generated from wind: monthly average','#22dd22'],['amount required to meet 15% of total energy demand','#e01010']].forEach((e,i)=>{const y=754+i*11;el('line',{x1:2980,x2:2998,y1:y,y2:y,stroke:e[1],'stroke-width':1.6});el('circle',{cx:2989,cy:y,r:2,fill:e[1]=='#22dd22'?e[1]:'none',stroke:e[1],'stroke-width':1.3});T(3001,y+2.5,e[0],{a:'start',fs:6});});
})();

/* FIG 7 */
(function(){const b={x0:3830,y0:837,x1:4136,y1:1079};frame(b);const m=M(b,[-0.45,23.45],[-1.05,22.1]);
yt(b,m,[0,2,4,6,8,10,12,14,16,18,20]);
H.forEach(h=>{const x=m(h,0)[0];T(x,1090,String(h),{fs:7.5});el('line',{x1:x,x2:x,y1:b.y1,y2:b.y1-3,stroke:'#666','stroke-width':0.6});});
T(3983,1102,'hour');T(3810,958,'energy (GWh)',{r:1,fs:7.5});
const med=[10.7,10.7,10.5,10.2,10.2,10.2,10.1,9.8,9.7,9.6,9.2,8.8,8.5,8.3,8.1,7.9,8.2,8.7,9.2,9.8,10.2,10.8,11,11];
H.forEach(h=>{const md=med[h]+(R()-0.5)*1.5;const q1=md-2.5-R()*1.5,q3=md+1.5+R()*2.5;const lo=Math.max(0.2,md-6-R()*4),hi=Math.min(20.5,q3+3+R()*4);
const x=m(h,0)[0],w=8;const Y=v=>m(0,v)[1];
el('line',{x1:x,x2:x,y1:Y(hi),y2:Y(q3),stroke:'#888','stroke-width':0.6,'stroke-dasharray':'2,1.5'});el('line',{x1:x,x2:x,y1:Y(q1),y2:Y(lo),stroke:'#888','stroke-width':0.6,'stroke-dasharray':'2,1.5'});
el('line',{x1:x-2,x2:x+2,y1:Y(hi),y2:Y(hi),stroke:'#666','stroke-width':0.6});el('line',{x1:x-2,x2:x+2,y1:Y(lo),y2:Y(lo),stroke:'#666','stroke-width':0.6});
el('rect',{x:x-w/2,y:Y(q3),width:w,height:Y(q1)-Y(q3),fill:'none',stroke:'#66d','stroke-width':0.8});
el('line',{x1:x-w/2,x2:x+w/2,y1:Y(md),y2:Y(md),stroke:'#e44','stroke-width':0.8});});
const R0=[0,4,6,7,8,9,10,15,16,17,18,19];R0.forEach(h=>{const p=m(h,0);el('circle',{cx:p[0],cy:p[1],r:2.3,fill:'none',stroke:'#e55','stroke-width':0.8});});
[[1,21],[2,20.5],[3,19.6],[6,18.3],[7,17.7],[15,14.1],[16,13.5],[18,15.2],[19,16.1]].forEach(o=>{const p=m(o[0],o[1]);el('circle',{cx:p[0],cy:p[1],r:2.3,fill:'none',stroke:'#e55','stroke-width':0.8});});
pl(m,H,RED6,{stroke:'#000','stroke-width':2.2});
})();

/* FIG 8 */
(function(){const cols=[[4213,4308],[4338,4432],[4462,4556]],rows=[[804,845],[862,902],[919,959],[976,1016],[1032,1073]];
const lv=[1.5,0.55,0.7,1.2,0.5,0.7,1.1,1.0,0.75,1.05,0.85,0.4,1.05,0.9,0.6];let k=0;
rows.forEach(r=>cols.forEach(c=>{const b={x0:c[0],y0:r[0],x1:c[1],y1:r[1]};frame(b);const m=M(b,[-0.5,23.5],[-15.5,17]);
[10,0,-10].forEach(v=>T(b.x0-3,m(0,v)[1]+3,String(v),{a:'end',fs:7}));[0,10,20].forEach(v=>T(m(v,0)[0],b.y1+13,String(v),{fs:7}));
let w=8+R()*6;const L=lv[k++];H.forEach(h=>{w+=(R()-0.5)*4+(9-w)*0.1;w=Math.max(0,w);let d=RED6[h]*0.95-w*L+(h<6?-4:0)*(L>0.9?1:0.3);d=Math.max(-14,Math.min(15,d));const p0=m(h-0.5,0),p1=m(h+0.5,d);
el('rect',{x:p0[0],y:Math.min(p0[1],p1[1]),width:p1[0]-p0[0],height:Math.abs(p1[1]-p0[1]),fill:d>0?'#dd1515':'#22dd22',stroke:d>0?'#700':'#070','stroke-width':0.3});});
el('line',{x1:b.x0,x2:b.x1,y1:m(0,0)[1],y2:m(0,0)[1],stroke:'#999','stroke-width':0.5});}));
})();
</script>
</body></html>
